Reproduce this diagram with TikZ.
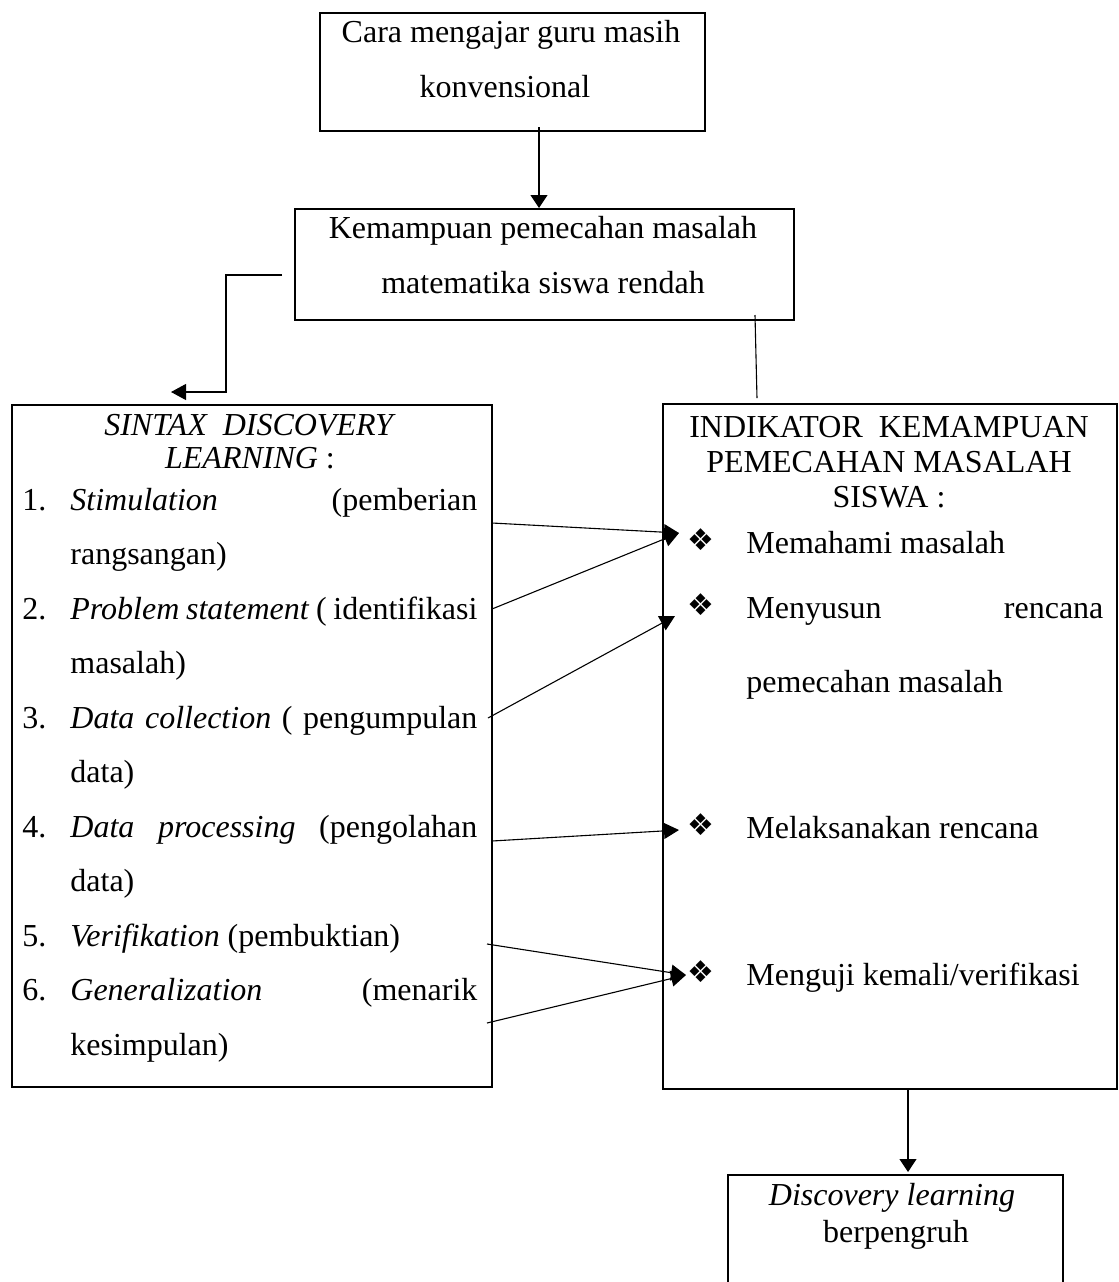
\documentclass[tikz,border=0pt]{standalone}
\usepackage{fontspec}
\setmainfont{Liberation Serif}
\newfontfamily\dejavu{DejaVu Sans}
\usetikzlibrary{arrows.meta}
\begin{document}
\begin{tikzpicture}[x=0.5pt,y=-0.5pt,
  box/.style={draw, line width=1pt, inner sep=0pt, anchor=north west},
  txt/.style={inner sep=0pt, font=\fontsize{16}{16}\selectfont},
  bul/.style={inner sep=0pt, anchor=base west, font=\dejavu\fontsize{15}{15}\selectfont},
  con/.style={line width=0.55pt},
  arr/.style={con, -{Triangle[length=7.5pt,width=8pt]}},
  arrd/.style={con, -{Triangle[length=6.5pt,width=8.5pt]}},
]
\useasboundingbox (0,0) rectangle (1119,1282);
\clip (0,0) rectangle (1119,1282);

% boxes
\node[box, minimum width=192.5pt, minimum height=59pt] (b1) at (319,12) {};
\node[box, minimum width=249.5pt, minimum height=55.5pt] (b2) at (294,208) {};
\node[box, minimum width=240pt, minimum height=341pt] (b3) at (11,404) {};
\node[box, minimum width=227pt, minimum height=342.5pt] (b4) at (662,403) {};
\node[box, minimum width=167.5pt, minimum height=60pt] (b5) at (727,1174) {};

% box 1 text
\node[txt, anchor=base] (t11) at (511,42) {Cara mengajar guru masih};
\node[txt, anchor=base] (t12) at (505,97) {konvensional};
% box 2 text
\node[txt, anchor=base] (t21) at (543,238) {Kemampuan pemecahan masalah};
\node[txt, anchor=base] (t22) at (543,293) {matematika siswa rendah};

% left box
\node[txt, anchor=base] (h31) at (250,435) {\textit{SINTAX\ \ DISCOVERY}};
\node[txt, anchor=base] (h32) at (250,468) {\textit{LEARNING} :};

\node[txt, anchor=base west] (n1) at (22,510) {1.};
\node[txt, anchor=base west] (l1) at (70,510) {\makebox[203.5pt][s]{\textit{Stimulation} (pemberian}};
\node[txt, anchor=base west] (l1b) at (70,564.5) {rangsangan)};
\node[txt, anchor=base west] (n2) at (22,619) {2.};
\node[txt, anchor=base west] (l2) at (70,619) {\makebox[203.5pt][s]{\textit{Problem statement} ( identifikasi}};
\node[txt, anchor=base west] (l2b) at (70,673.5) {masalah)};
\node[txt, anchor=base west] (n3) at (22,728) {3.};
\node[txt, anchor=base west] (l3) at (70,728) {\makebox[203.5pt][s]{\textit{Data collection} ( pengumpulan}};
\node[txt, anchor=base west] (l3b) at (70,782.5) {data)};
\node[txt, anchor=base west] (n4) at (22,837) {4.};
\node[txt, anchor=base west] (l4) at (70,837) {\makebox[203.5pt][s]{\textit{Data processing} (pengolahan}};
\node[txt, anchor=base west] (l4b) at (70,891.5) {data)};
\node[txt, anchor=base west] (n5) at (22,946) {5.};
\node[txt, anchor=base west] (l5) at (70,946) {\textit{Verifikation} (pembuktian)};
\node[txt, anchor=base west] (n6) at (22,1000.5) {6.};
\node[txt, anchor=base west] (l6) at (70,1000.5) {\makebox[203.5pt][s]{\textit{Generalization} (menarik}};
\node[txt, anchor=base west] (l6b) at (70,1055) {kesimpulan)};

% right box
\node[txt, anchor=base] (h41) at (889,437) {INDIKATOR\ \ KEMAMPUAN};
\node[txt, anchor=base] (h42) at (889,472) {PEMECAHAN MASALAH};
\node[txt, anchor=base] (h43) at (889,507) {SISWA :};

\node[bul] (d1) at (687,550) {❖};
\node[txt, anchor=base west] (r1) at (746,553) {Memahami masalah};
\node[bul] (d2) at (687,615) {❖};
\node[txt, anchor=base west] (r2) at (746,618) {\makebox[178.5pt][s]{Menyusun rencana}};
\node[txt, anchor=base west] (r2b) at (746,692) {pemecahan masalah};
\node[bul] (d3) at (687,835) {❖};
\node[txt, anchor=base west] (r3) at (746,838) {Melaksanakan rencana};
\node[bul] (d4) at (687,982) {❖};
\node[txt, anchor=base west] (r4) at (746,985) {Menguji kemali/verifikasi};

% bottom box text
\node[txt, anchor=base] (t51) at (892,1205) {\textit{Discovery learning}};
\node[txt, anchor=base] (t52) at (896,1242) {berpengruh};

% connector coordinates
\coordinate (c1a) at (539,127);
\coordinate (c1b) at (539,208);
\coordinate (e0) at (282,275);
\coordinate (e1) at (226,275);
\coordinate (e2) at (226,392);
\coordinate (e3) at (171,392);
\coordinate (v0) at (755,315);
\coordinate (v1) at (757,398);
\coordinate (c5a) at (908,1088);
\coordinate (c5b) at (908,1172);

\coordinate (s1) at (492,523);
\coordinate (s2) at (492,609);
\coordinate (s3) at (488,718);
\coordinate (s4) at (492,841);
\coordinate (s5) at (487,944);
\coordinate (s6) at (487,1023);
\coordinate (k1) at (679,533);
\coordinate (k3) at (675,616);
\coordinate (k4) at (679,830);
\coordinate (k5) at (686,975);

% connectors
\draw[arrd] (c1a) -- (c1b);
\draw[arr] (e0) -- (e1) -- (e2) -- (e3);
\draw[con] (v0) -- (v1);
\draw[arrd] (c5a) -- (c5b);

\draw[arr] (s1) -- (k1);
\draw[arr] (s2) -- (k1);
\draw[arr] (s3) -- (k3);
\draw[arr] (s4) -- (k4);
\draw[arr] (s5) -- (k5);
\draw[arr] (s6) -- (k5);
\end{tikzpicture}
\end{document}
